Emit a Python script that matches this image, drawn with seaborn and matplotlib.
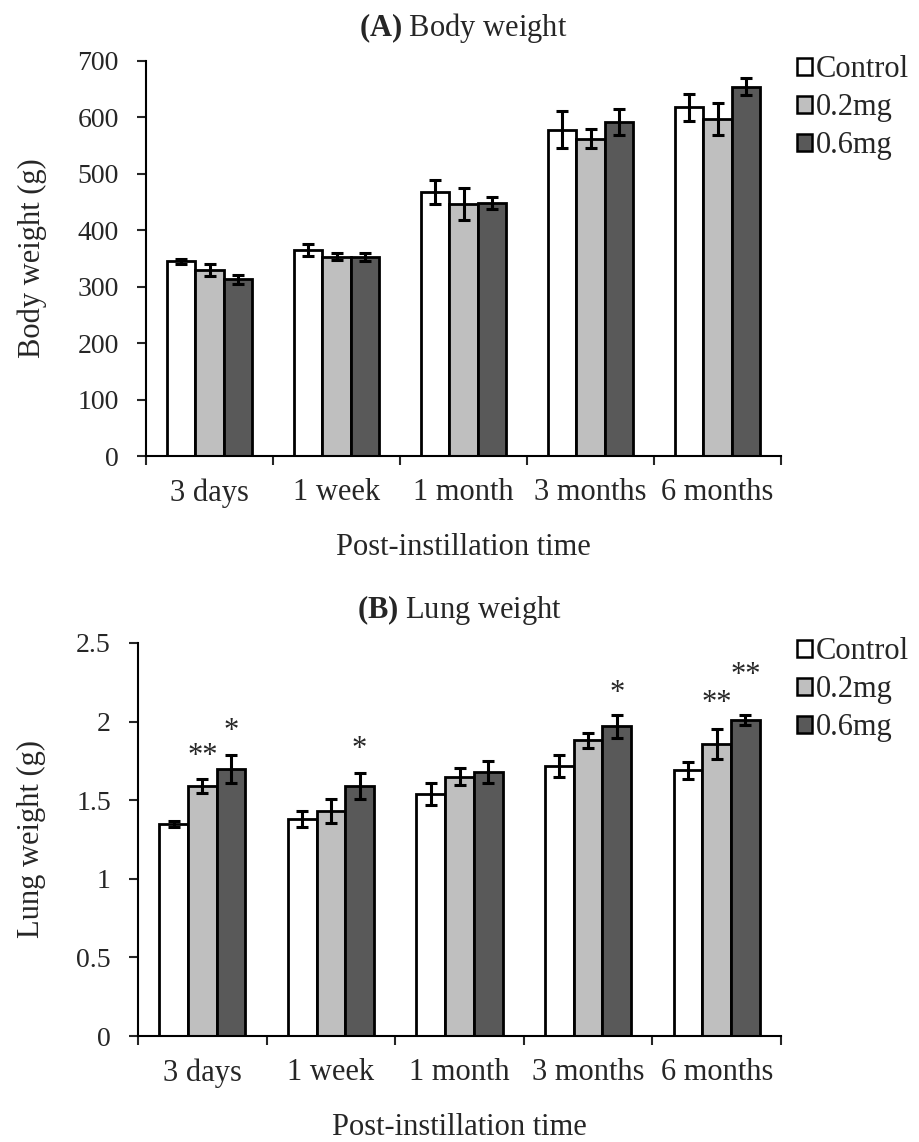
import numpy as np
import pandas as pd
import matplotlib
matplotlib.use('Agg')
import matplotlib.pyplot as plt
from matplotlib.patches import Patch
import seaborn as sns

# data
times = ['3 days', '1 week', '1 month', '3 months', '6 months']
groups = ['Control', '0.2mg', '0.6mg']

body_control = [345, 365, 468, 578, 618]
body_02mg = [330, 353, 447, 562, 597]
body_06mg = [313, 352, 448, 592, 654]
body_control_err = [4, 10, 22, 33, 24]
body_02mg_err = [11, 6, 28, 17, 29]
body_06mg_err = [8, 7, 11, 23, 15]

lung_control = [1.35, 1.38, 1.54, 1.72, 1.69]
lung_02mg = [1.59, 1.43, 1.65, 1.88, 1.86]
lung_06mg = [1.70, 1.59, 1.68, 1.97, 2.01]
lung_control_err = [0.02, 0.05, 0.07, 0.07, 0.055]
lung_02mg_err = [0.045, 0.075, 0.055, 0.048, 0.095]
lung_06mg_err = [0.09, 0.08, 0.07, 0.075, 0.034]

# significance marks on lung weight (star level in g)
star_time = ['3 days', '3 days', '1 week', '3 months', '6 months', '6 months']
star_group = ['0.2mg', '0.6mg', '0.6mg', '0.6mg', '0.2mg', '0.6mg']
star_text = ['**', '*', '*', '*', '**', '**']
star_level = [1.83, 1.99, 1.875, 2.23, 2.17, 2.35]

colors = ['#FFFFFF', '#BFBFBF', '#595959']

sns.set_style('ticks')
plt.rcParams['font.family'] = ['Liberation Serif', 'DejaVu Serif']
plt.rcParams['mathtext.fontset'] = 'custom'
plt.rcParams['mathtext.rm'] = 'Liberation Serif'
plt.rcParams['mathtext.bf'] = 'Liberation Serif:bold'
FS = 22
TFS = 20


def to_long(vals, errs):
    rows = []
    for g, v, e in zip(groups, vals, errs):
        for t, vv, ee in zip(times, v, e):
            rows.append({'time': t, 'group': g, 'value': vv, 'err': ee})
    return pd.DataFrame(rows)


def draw_panel(ax, df, title, ylabel, ymax, ystep):
    sns.barplot(data=df, x='time', y='value', hue='group', order=times,
                hue_order=groups, palette=colors, errorbar=None, width=0.67,
                edgecolor='black', linewidth=2, saturation=1, legend=False, ax=ax)
    centers = {}
    for g, cont in zip(groups, ax.containers):
        sub = df[df['group'] == g].set_index('time').loc[times]
        xs = [b.get_x() + b.get_width() / 2 for b in cont]
        for t, x in zip(times, xs):
            centers[(t, g)] = x
        ax.errorbar(xs, sub['value'], yerr=sub['err'], fmt='none', ecolor='black',
                    elinewidth=2.2, capsize=4.5, capthick=2.2, zorder=5)
    ax.set_xlim(-0.5, len(times) - 0.5)
    ax.set_ylim(0, ymax)
    yt = np.arange(0, ymax + ystep / 2, ystep)
    ax.set_yticks(yt)
    ax.set_yticklabels([f'{v:g}' for v in yt])
    ax.set_xticks(np.arange(len(times) + 1) - 0.5)
    ax.set_xticklabels([])
    ax.set_xticks(np.arange(len(times)), minor=True)
    ax.set_xticklabels(times, minor=True)
    ax.tick_params(axis='x', which='major', direction='out', length=6.5, width=1.5)
    ax.tick_params(axis='x', which='minor', length=0, pad=16, labelsize=FS)
    ax.tick_params(axis='y', direction='out', length=6.5, width=1.5, labelsize=TFS, pad=13)
    for s in ['top', 'right']:
        ax.spines[s].set_visible(False)
    for s in ['left', 'bottom']:
        ax.spines[s].set_linewidth(1.5)
        ax.spines[s].set_color('black')
    ax.set_xlabel('Post-instillation time', fontsize=FS, labelpad=18)
    ax.set_ylabel(ylabel, fontsize=FS, labelpad=22)
    ax.set_title(title, fontsize=FS, pad=18)
    handles = [Patch(facecolor=c, edgecolor='black', linewidth=1.8) for c in colors]
    ax.legend(handles, groups, loc='upper left', bbox_to_anchor=(1.025, 1.015),
              frameon=False, fontsize=FS, handlelength=0.5, handleheight=0.5,
              handletextpad=0.12, labelspacing=0.3, borderpad=0, borderaxespad=0)
    return centers


fig = plt.figure(figsize=(9.19, 11.42), dpi=100)
W, H = 919, 1142
ax1 = fig.add_axes([146 / W, (H - 456) / H, (781 - 146) / W, 395 / H])
ax2 = fig.add_axes([138 / W, (H - 1036) / H, (781 - 138) / W, 393 / H])

draw_panel(ax1, to_long([body_control, body_02mg, body_06mg],
                        [body_control_err, body_02mg_err, body_06mg_err]),
           r'$\mathbf{(A)}$ Body weight', 'Body weight (g)', 700, 100)
centers = draw_panel(ax2, to_long([lung_control, lung_02mg, lung_06mg],
                                  [lung_control_err, lung_02mg_err, lung_06mg_err]),
                     r'$\mathbf{(B)}$ Lung weight', 'Lung weight (g)', 2.5, 0.5)

for t, g, s, y in zip(star_time, star_group, star_text, star_level):
    ax2.annotate(s, (centers[(t, g)], y), xytext=(0, -11.5), textcoords='offset points',
                 ha='center', va='baseline', fontsize=FS)

fig.savefig('out.png', dpi=100)
